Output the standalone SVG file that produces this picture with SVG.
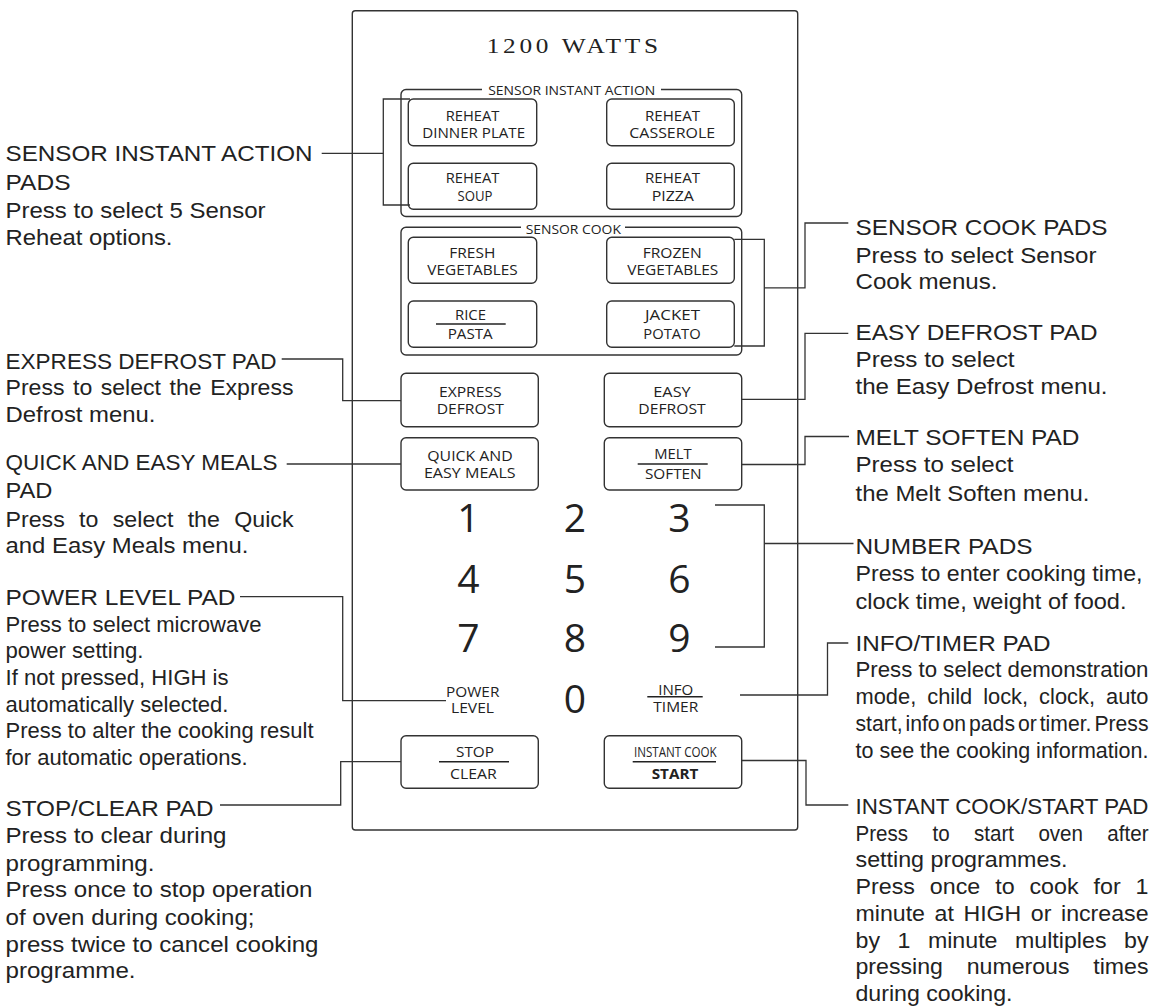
<svg xmlns="http://www.w3.org/2000/svg" width="1163" height="1008" viewBox="0 0 1163 1008">
<style>
.ln{fill:none;stroke:#333;stroke-width:1.3}
.bx{fill:#fff;stroke:#333;stroke-width:1.4}
.grp{fill:none;stroke:#333;stroke-width:1.4}
.dv{stroke:#222;stroke-width:1.6}
.pt{font-family:"Open Sans","DejaVu Sans",sans-serif;font-size:15px;fill:#222;text-anchor:middle}
.gt{font-family:"Open Sans","DejaVu Sans",sans-serif;font-size:12.5px;fill:#222;text-anchor:middle}
.num{font-family:"Open Sans","DejaVu Sans",sans-serif;font-size:39px;fill:#222;text-anchor:middle}
.lt{font-family:"Liberation Sans",Arial,sans-serif;font-size:22px;fill:#222}
.ttl{font-family:"Liberation Serif","Times New Roman",serif;font-size:20.5px;fill:#222;letter-spacing:3px;text-anchor:middle}
</style>
<rect x="0" y="0" width="1163" height="1008" fill="#fff"/>

<g id="panel">
<rect x="352.3" y="10.7" width="445.4" height="819.3" rx="3" class="grp" stroke-width="1.5"/>
<text x="574.2" y="53.3" class="ttl" textLength="175" lengthAdjust="spacingAndGlyphs">1200 WATTS</text>
</g>

<g id="group-sensor-instant-action">
<rect x="401" y="89.5" width="340.7" height="127" rx="5" class="grp"/>
<rect x="482" y="83" width="179" height="14" fill="#fff"/>
<text x="571.7" y="95" class="gt" textLength="167" lengthAdjust="spacingAndGlyphs">SENSOR INSTANT ACTION</text>
</g>

<g id="group-sensor-cook">
<rect x="401" y="227.3" width="340.7" height="127.7" rx="5" class="grp"/>
<rect x="521" y="221" width="104" height="14" fill="#fff"/>
<text x="573.3" y="234" class="gt" textLength="95.3" lengthAdjust="spacingAndGlyphs">SENSOR COOK</text>
</g>

<g id="btn-reheat-dinner-plate">
<rect x="408.3" y="99" width="128.4" height="46.7" rx="5" class="bx"/>
<text x="472.5" y="120.7" class="pt" textLength="53.6" lengthAdjust="spacingAndGlyphs">REHEAT</text>
<text x="473.7" y="138.3" class="pt" textLength="102.7" lengthAdjust="spacingAndGlyphs">DINNER PLATE</text>
</g>
<g id="btn-reheat-casserole">
<rect x="606.7" y="99" width="127.6" height="46.7" rx="5" class="bx"/>
<text x="672.5" y="120.7" class="pt" textLength="55" lengthAdjust="spacingAndGlyphs">REHEAT</text>
<text x="672.2" y="138.3" class="pt" textLength="85.7" lengthAdjust="spacingAndGlyphs">CASSEROLE</text>
</g>
<g id="btn-reheat-soup">
<rect x="408.3" y="163.3" width="128.4" height="46" rx="5" class="bx"/>
<text x="472.5" y="182.7" class="pt" textLength="53.6" lengthAdjust="spacingAndGlyphs">REHEAT</text>
<text x="475" y="201" class="pt" textLength="35" lengthAdjust="spacingAndGlyphs">SOUP</text>
</g>
<g id="btn-reheat-pizza">
<rect x="606.7" y="163.3" width="127.6" height="46" rx="5" class="bx"/>
<text x="672.5" y="182.7" class="pt" textLength="55" lengthAdjust="spacingAndGlyphs">REHEAT</text>
<text x="672.8" y="201" class="pt" textLength="42.3" lengthAdjust="spacingAndGlyphs">PIZZA</text>
</g>

<g id="btn-fresh-vegetables">
<rect x="408.3" y="237.3" width="128.4" height="46" rx="5" class="bx"/>
<text x="472.3" y="257.7" class="pt" textLength="46" lengthAdjust="spacingAndGlyphs">FRESH</text>
<text x="472.5" y="275" class="pt" textLength="90.4" lengthAdjust="spacingAndGlyphs">VEGETABLES</text>
</g>
<g id="btn-frozen-vegetables">
<rect x="606.7" y="237.3" width="127.6" height="46" rx="5" class="bx"/>
<text x="672.2" y="257.7" class="pt" textLength="59" lengthAdjust="spacingAndGlyphs">FROZEN</text>
<text x="672.8" y="275" class="pt" textLength="91" lengthAdjust="spacingAndGlyphs">VEGETABLES</text>
</g>
<g id="btn-rice-pasta">
<rect x="408.3" y="301" width="128.4" height="46.3" rx="5" class="bx"/>
<text x="470.5" y="320" class="pt" textLength="31" lengthAdjust="spacingAndGlyphs">RICE</text>
<line x1="436" y1="324" x2="505.7" y2="324" class="dv"/>
<text x="470.2" y="339.3" class="pt" textLength="45" lengthAdjust="spacingAndGlyphs">PASTA</text>
</g>
<g id="btn-jacket-potato">
<rect x="606.7" y="301" width="127.6" height="46.3" rx="5" class="bx"/>
<text x="672.5" y="320" class="pt" textLength="55" lengthAdjust="spacingAndGlyphs">JACKET</text>
<text x="672" y="339.3" class="pt" textLength="57.4" lengthAdjust="spacingAndGlyphs">POTATO</text>
</g>

<g id="btn-express-defrost">
<rect x="401" y="373.3" width="137.3" height="53.4" rx="5" class="bx"/>
<text x="470.3" y="396.7" class="pt" textLength="62.7" lengthAdjust="spacingAndGlyphs">EXPRESS</text>
<text x="470.3" y="414.3" class="pt" textLength="67.3" lengthAdjust="spacingAndGlyphs">DEFROST</text>
</g>
<g id="btn-easy-defrost">
<rect x="604.3" y="373.3" width="137.4" height="53.4" rx="5" class="bx"/>
<text x="672" y="396.7" class="pt" textLength="37.4" lengthAdjust="spacingAndGlyphs">EASY</text>
<text x="672" y="414.3" class="pt" textLength="67.4" lengthAdjust="spacingAndGlyphs">DEFROST</text>
</g>
<g id="btn-quick-easy-meals">
<rect x="401" y="437.7" width="137.3" height="52.3" rx="5" class="bx"/>
<text x="470" y="460.7" class="pt" textLength="85.4" lengthAdjust="spacingAndGlyphs">QUICK AND</text>
<text x="469.8" y="478.3" class="pt" textLength="91.7" lengthAdjust="spacingAndGlyphs">EASY MEALS</text>
</g>
<g id="btn-melt-soften">
<rect x="604.3" y="437.7" width="137.4" height="52.3" rx="5" class="bx"/>
<text x="673" y="459.3" class="pt" textLength="37.4" lengthAdjust="spacingAndGlyphs">MELT</text>
<line x1="637.7" y1="464" x2="707.7" y2="464" class="dv"/>
<text x="673.3" y="479.3" class="pt" textLength="56.7" lengthAdjust="spacingAndGlyphs">SOFTEN</text>
</g>

<g id="number-pads">
<text x="468.5" y="531.7" class="num">1</text>
<text x="575" y="531.7" class="num">2</text>
<text x="679.5" y="531.7" class="num">3</text>
<text x="468.5" y="593.3" class="num">4</text>
<text x="575" y="593.3" class="num">5</text>
<text x="679.5" y="593.3" class="num">6</text>
<text x="468.5" y="651.7" class="num">7</text>
<text x="575" y="651.7" class="num">8</text>
<text x="679.5" y="651.7" class="num">9</text>
<text x="575" y="712.7" class="num">0</text>
</g>
<g id="pad-power-level">
<text x="472.7" y="696.7" class="pt" textLength="53.3" lengthAdjust="spacingAndGlyphs">POWER</text>
<text x="472.5" y="713.3" class="pt" textLength="43" lengthAdjust="spacingAndGlyphs">LEVEL</text>
</g>
<g id="pad-info-timer">
<text x="675.8" y="694.5" class="pt" textLength="35" lengthAdjust="spacingAndGlyphs">INFO</text>
<line x1="647.3" y1="696.7" x2="702.7" y2="696.7" class="dv"/>
<text x="675.8" y="712.3" class="pt" textLength="45" lengthAdjust="spacingAndGlyphs">TIMER</text>
</g>
<g id="btn-stop-clear">
<rect x="401" y="735.7" width="137.3" height="52.6" rx="5" class="bx"/>
<text x="475" y="756.7" class="pt" textLength="38" lengthAdjust="spacingAndGlyphs">STOP</text>
<line x1="439" y1="761.7" x2="509" y2="761.7" class="dv"/>
<text x="473.3" y="779.3" class="pt" textLength="46.7" lengthAdjust="spacingAndGlyphs">CLEAR</text>
</g>
<g id="btn-instant-cook-start">
<rect x="604.3" y="735.7" width="137.4" height="52.6" rx="5" class="bx"/>
<text x="675.3" y="756.7" class="pt" textLength="82.7" lengthAdjust="spacingAndGlyphs">INSTANT COOK</text>
<line x1="632.7" y1="761.7" x2="716" y2="761.7" class="dv"/>
<text x="675" y="779.3" class="pt" font-weight="bold" textLength="46.6" lengthAdjust="spacingAndGlyphs">START</text>
</g>

<g id="connectors">
<polyline class="ln" points="321.7,153.3 383.3,153.3"/>
<polyline class="ln" points="410,99 383.3,99 383.3,205 410,205"/>
<polyline class="ln" points="281.7,359 342.7,359 342.7,400.7 401,400.7"/>
<polyline class="ln" points="286.7,464 401,464"/>
<polyline class="ln" points="240,596.7 342.7,596.7 342.7,700.7 446,700.7"/>
<polyline class="ln" points="220,805 340.7,805 340.7,761.7 401,761.7"/>
<polyline class="ln" points="734.3,239.3 764.3,239.3 764.3,346 734.3,346"/>
<polyline class="ln" points="764.3,287.8 805,287.8 805,223 848.3,223"/>
<polyline class="ln" points="741.7,399.3 805,399.3 805,333.3 848.3,333.3"/>
<polyline class="ln" points="741.7,464.5 805,464.5 805,436.5 849,436.5"/>
<polyline class="ln" points="715,505 764.3,505 764.3,647 715,647"/>
<polyline class="ln" points="764.3,543.5 853.5,543.5"/>
<polyline class="ln" points="740,695 827.5,695 827.5,643 848.3,643"/>
<polyline class="ln" points="741.7,760.5 806,760.5 806,805 848.3,805"/>
</g>

<g id="label-sensor-instant-action">
<text x="5.5" y="161" class="lt" textLength="307" lengthAdjust="spacingAndGlyphs">SENSOR INSTANT ACTION</text>
<text x="5.5" y="189.5" class="lt" textLength="65" lengthAdjust="spacingAndGlyphs">PADS</text>
<text x="5.5" y="217.5" class="lt" textLength="260" lengthAdjust="spacingAndGlyphs">Press to select 5 Sensor</text>
<text x="5.5" y="245" class="lt" textLength="167" lengthAdjust="spacingAndGlyphs">Reheat options.</text>
</g>
<g id="label-express-defrost">
<text x="5.5" y="368.5" class="lt" textLength="271" lengthAdjust="spacingAndGlyphs">EXPRESS DEFROST PAD</text>
<text x="5.5" y="395" class="lt" textLength="288" word-spacing="2" lengthAdjust="spacingAndGlyphs">Press to select the Express</text>
<text x="5.5" y="421.7" class="lt" textLength="150" lengthAdjust="spacingAndGlyphs">Defrost menu.</text>
</g>
<g id="label-quick-easy-meals">
<text x="5.5" y="470" class="lt" textLength="272" lengthAdjust="spacingAndGlyphs">QUICK AND EASY MEALS</text>
<text x="5.5" y="498" class="lt" textLength="47" lengthAdjust="spacingAndGlyphs">PAD</text>
<text x="5.5" y="526.5" class="lt" textLength="288" word-spacing="7.5" lengthAdjust="spacingAndGlyphs">Press to select the Quick</text>
<text x="5.5" y="553.3" class="lt" textLength="243" lengthAdjust="spacingAndGlyphs">and Easy Meals menu.</text>
</g>
<g id="label-power-level">
<text x="5.5" y="605" class="lt" textLength="230" lengthAdjust="spacingAndGlyphs">POWER LEVEL PAD</text>
<text x="5.5" y="631.7" class="lt" textLength="256" lengthAdjust="spacingAndGlyphs">Press to select microwave</text>
<text x="5.5" y="658" class="lt" textLength="138" lengthAdjust="spacingAndGlyphs">power setting.</text>
<text x="5.5" y="684.5" class="lt" textLength="223" lengthAdjust="spacingAndGlyphs">If not pressed, HIGH is</text>
<text x="5.5" y="711.5" class="lt" textLength="223" lengthAdjust="spacingAndGlyphs">automatically selected.</text>
<text x="5.5" y="738.3" class="lt" textLength="308" lengthAdjust="spacingAndGlyphs">Press to alter the cooking result</text>
<text x="5.5" y="765" class="lt" textLength="242" lengthAdjust="spacingAndGlyphs">for automatic operations.</text>
</g>
<g id="label-stop-clear">
<text x="5.5" y="816" class="lt" textLength="208" lengthAdjust="spacingAndGlyphs">STOP/CLEAR PAD</text>
<text x="5.5" y="843.3" class="lt" textLength="221" lengthAdjust="spacingAndGlyphs">Press to clear during</text>
<text x="5.5" y="870.7" class="lt" textLength="149" lengthAdjust="spacingAndGlyphs">programming.</text>
<text x="5.5" y="897.3" class="lt" textLength="307" lengthAdjust="spacingAndGlyphs">Press once to stop operation</text>
<text x="5.5" y="925" class="lt" textLength="249" lengthAdjust="spacingAndGlyphs">of oven during cooking;</text>
<text x="5.5" y="951.7" class="lt" textLength="313" lengthAdjust="spacingAndGlyphs">press twice to cancel cooking</text>
<text x="5.5" y="978.3" class="lt" textLength="130" lengthAdjust="spacingAndGlyphs">programme.</text>
</g>

<g id="label-sensor-cook">
<text x="855.5" y="235" class="lt" textLength="252" lengthAdjust="spacingAndGlyphs">SENSOR COOK PADS</text>
<text x="855.5" y="262.5" class="lt" textLength="241" lengthAdjust="spacingAndGlyphs">Press to select Sensor</text>
<text x="855.5" y="289.3" class="lt" textLength="142" lengthAdjust="spacingAndGlyphs">Cook menus.</text>
</g>
<g id="label-easy-defrost">
<text x="855.5" y="340" class="lt" textLength="242" lengthAdjust="spacingAndGlyphs">EASY DEFROST PAD</text>
<text x="855.5" y="367" class="lt" textLength="159" lengthAdjust="spacingAndGlyphs">Press to select</text>
<text x="855.5" y="393.5" class="lt" textLength="252" lengthAdjust="spacingAndGlyphs">the Easy Defrost menu.</text>
</g>
<g id="label-melt-soften">
<text x="855.5" y="444.5" class="lt" textLength="224" lengthAdjust="spacingAndGlyphs">MELT SOFTEN PAD</text>
<text x="855.5" y="472" class="lt" textLength="158" lengthAdjust="spacingAndGlyphs">Press to select</text>
<text x="855.5" y="500.5" class="lt" textLength="234" lengthAdjust="spacingAndGlyphs">the Melt Soften menu.</text>
</g>
<g id="label-number-pads">
<text x="855.5" y="553.5" class="lt" textLength="177" lengthAdjust="spacingAndGlyphs">NUMBER PADS</text>
<text x="855.5" y="581" class="lt" textLength="287" lengthAdjust="spacingAndGlyphs">Press to enter cooking time,</text>
<text x="855.5" y="609" class="lt" textLength="271" lengthAdjust="spacingAndGlyphs">clock time, weight of food.</text>
</g>
<g id="label-info-timer">
<text x="855.5" y="650.5" class="lt" textLength="195" lengthAdjust="spacingAndGlyphs">INFO/TIMER PAD</text>
<text x="855.5" y="677" class="lt" textLength="293" lengthAdjust="spacingAndGlyphs">Press to select demonstration</text>
<text x="855.5" y="704" class="lt" textLength="293" word-spacing="5" lengthAdjust="spacingAndGlyphs">mode, child lock, clock, auto</text>
<text x="855.5" y="730.7" class="lt" textLength="293" word-spacing="-3" lengthAdjust="spacingAndGlyphs">start, info on pads or timer. Press</text>
<text x="855.5" y="758" class="lt" textLength="293" lengthAdjust="spacingAndGlyphs">to see the cooking information.</text>
</g>
<g id="label-instant-cook-start">
<text x="855.5" y="814" class="lt" textLength="293" lengthAdjust="spacingAndGlyphs">INSTANT COOK/START PAD</text>
<text x="855.5" y="840.5" class="lt" textLength="293" word-spacing="20" lengthAdjust="spacingAndGlyphs">Press to start oven after</text>
<text x="855.5" y="867" class="lt" textLength="212" lengthAdjust="spacingAndGlyphs">setting programmes.</text>
<text x="855.5" y="894" class="lt" textLength="293" word-spacing="8" lengthAdjust="spacingAndGlyphs">Press once to cook for 1</text>
<text x="855.5" y="920.5" class="lt" textLength="293" word-spacing="3" lengthAdjust="spacingAndGlyphs">minute at HIGH or increase</text>
<text x="855.5" y="947.5" class="lt" textLength="293" word-spacing="10.5" lengthAdjust="spacingAndGlyphs">by 1 minute multiples by</text>
<text x="855.5" y="974" class="lt" textLength="293" word-spacing="16.5" lengthAdjust="spacingAndGlyphs">pressing numerous times</text>
<text x="855.5" y="1001" class="lt" textLength="157" lengthAdjust="spacingAndGlyphs">during cooking.</text>
</g>
</svg>
